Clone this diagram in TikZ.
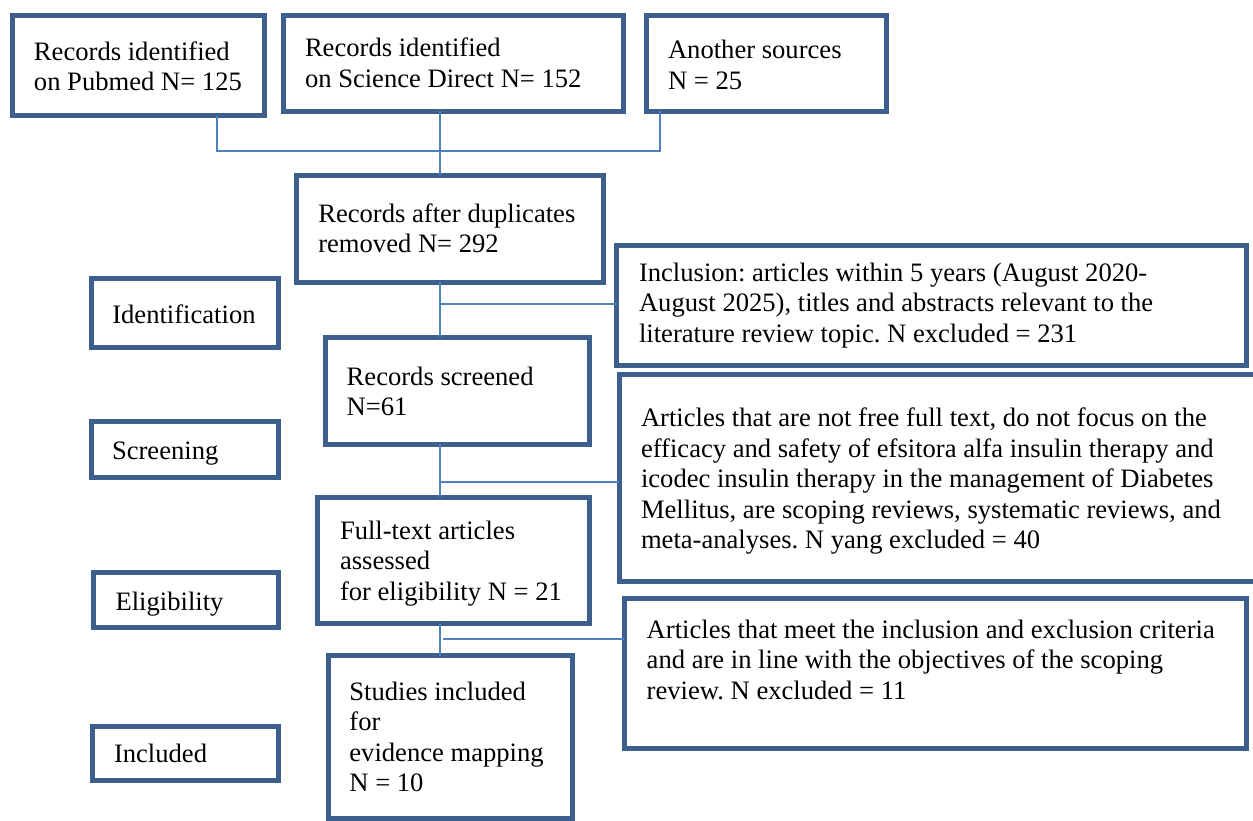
\documentclass[tikz,border=0pt]{standalone}
\usepackage{fontspec}
\setmainfont{Liberation Serif}[Ligatures=NoCommon]
\frenchspacing
\definecolor{boxblue}{HTML}{3C5F8E}
\definecolor{linkblue}{HTML}{4F81BD}
\begin{document}
\begin{tikzpicture}[x=1pt,y=-1pt,
  box/.style={draw=boxblue, line width=5pt, rectangle, inner sep=0pt, outer sep=0pt, anchor=north west},
  txt/.style={inner sep=0pt, outer sep=0pt, anchor=base west, align=left, font=\fontsize{26.6}{30.4}\selectfont},
  link/.style={draw=linkblue, line width=2pt}]
\useasboundingbox (0,0) rectangle (1253,820);
\clip (0,0) rectangle (1253,820);
% boxes
\node[box, minimum width=252.5pt, minimum height=100pt] (pub) at (12,15.5) {};
\node[box, minimum width=340.5pt, minimum height=96pt] (sd) at (283,15) {};
\node[box, minimum width=240pt, minimum height=95.5pt] (oth) at (646,15.5) {};
\node[box, minimum width=307pt, minimum height=107pt] (dup) at (296.5,175) {};
\node[box, minimum width=630pt, minimum height=120.5pt] (incl) at (616.5,245) {};
\node[box, minimum width=187pt, minimum height=69pt] (ident) at (91,278.5) {};
\node[box, minimum width=264pt, minimum height=107pt] (scr) at (325,337) {};
\node[box, minimum width=646pt, minimum height=207pt] (exc2) at (619,374) {};
\node[box, minimum width=187pt, minimum height=56pt] (scrlab) at (91,421.5) {};
\node[box, minimum width=271.5pt, minimum height=126.5pt] (full) at (317.5,497) {};
\node[box, minimum width=185pt, minimum height=55pt] (elig) at (93,572.5) {};
\node[box, minimum width=622.5pt, minimum height=150pt] (exc3) at (624,598) {};
\node[box, minimum width=185.5pt, minimum height=54pt] (inclab) at (92.5,726) {};
\node[box, minimum width=244.5pt, minimum height=162.5pt] (stud) at (328,655.5) {};
% texts (anchored at the baseline of their last line)
\node[txt] (tpub) at (34,90.7) {Records identified\\on Pubmed N= 125};
\node[txt] (tsd) at (305,87.3) {Records identified\\on Science Direct N= 152};
\node[txt] (toth) at (668,89.3) {Another sources\\N = 25};
\node[txt] (tdup) at (318.3,252.5) {Records after duplicates\\removed N= 292};
\node[txt] (tincl) at (639,342.3) {Inclusion: articles within 5 years (August 2020-\\August 2025), titles and abstracts relevant to the\\literature review topic. N excluded = 231};
\node[txt] (tident) at (112.3,323.3) {Identification};
\node[txt] (tscr) at (346.7,415.7) {Records screened\\N=61};
\node[txt] (texc2) at (641,548.5) {Articles that are not free full text, do not focus on the\\efficacy and safety of efsitora alfa insulin therapy and\\icodec insulin therapy in the management of Diabetes\\Mellitus, are scoping reviews, systematic reviews, and\\meta-analyses. N yang excluded = 40};
\node[txt] (tscrlab) at (112,459.3) {Screening};
\node[txt] (tfull) at (340,600) {Full-text articles\\assessed\\for eligibility N = 21};
\node[txt] (telig) at (115.6,610) {Eligibility};
\node[txt] (texc3) at (646.7,699) {Articles that meet the inclusion and exclusion criteria\\and are in line with the objectives of the scoping\\review. N excluded = 11};
\node[txt] (tinclab) at (114,762.7) {Included};
\node[txt] (tstud) at (349.4,791.7) {Studies included\\for\\evidence mapping\\N = 10};
% connectors
\coordinate (j1) at (440.3,150.5);
\coordinate (b3) at (443,638.5);
\draw[link] (pub.south west -| 216.7,0) |- (j1) -| (oth.south west -| 660.3,0);
\draw[link] (sd.south west -| 440.3,0) -- (dup.north west -| 440.3,0);
\draw[link] (dup.south west -| 440.3,0) -- (scr.north west -| 440.3,0);
\draw[link] (440.3,304) coordinate (b1) -- (b1 -| incl.west);
\draw[link] (scr.south west -| 440.3,0) -- (full.north west -| 440.3,0);
\draw[link] (440.3,481.7) coordinate (b2) -- (b2 -| exc2.west);
\draw[link] (full.south west -| 439.5,0) -- (stud.north west -| 439.5,0);
\draw[link] (b3) -- (b3 -| exc3.west);
\end{tikzpicture}
\end{document}
